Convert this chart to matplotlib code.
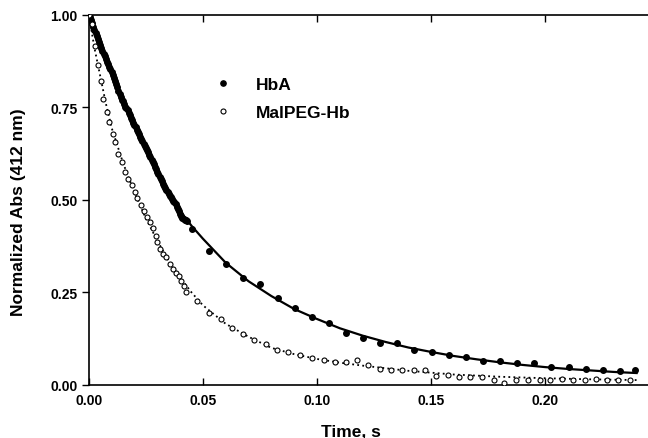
import matplotlib
matplotlib.use("Agg")
import matplotlib.pyplot as plt
from matplotlib.lines import Line2D

plt.rcParams["font.family"] = ["Liberation Sans", "DejaVu Sans"]
plt.rcParams["font.weight"] = "bold"

# HbA data (filled circles): dense early record, then sparse points
hba_t = [0.0000, 0.0005, 0.0010, 0.0015, 0.0020, 0.0025, 0.0030, 0.0035, 0.0040, 0.0045,
         0.0050, 0.0055, 0.0060, 0.0065, 0.0070, 0.0075, 0.0080, 0.0085, 0.0090, 0.0095,
         0.0100, 0.0105, 0.0110, 0.0115, 0.0120, 0.0125, 0.0130, 0.0135, 0.0140, 0.0145,
         0.0150, 0.0155, 0.0160, 0.0165, 0.0170, 0.0175, 0.0180, 0.0185, 0.0190, 0.0195,
         0.0200, 0.0205, 0.0210, 0.0215, 0.0220, 0.0225, 0.0230, 0.0235, 0.0240, 0.0245,
         0.0250, 0.0255, 0.0260, 0.0265, 0.0270, 0.0275, 0.0280, 0.0285, 0.0290, 0.0295,
         0.0300, 0.0305, 0.0310, 0.0315, 0.0320, 0.0325, 0.0330, 0.0335, 0.0340, 0.0345,
         0.0350, 0.0355, 0.0360, 0.0365, 0.0370, 0.0375, 0.0380, 0.0385, 0.0390, 0.0395,
         0.0400, 0.0405, 0.0410, 0.0415, 0.0420, 0.0425, 0.0430,
         0.0452, 0.0527, 0.0602, 0.0677, 0.0752, 0.0827, 0.0902, 0.0977, 0.1052,
         0.1127, 0.1202, 0.1277, 0.1352, 0.1427, 0.1502, 0.1577, 0.1652, 0.1727,
         0.1802, 0.1877, 0.1952, 0.2027, 0.2102, 0.2177, 0.2252, 0.2327, 0.2395]
hba_y = [1.000, 0.993, 0.985, 0.977, 0.968, 0.960, 0.952, 0.943, 0.935, 0.926,
         0.918, 0.910, 0.902, 0.895, 0.888, 0.881, 0.873, 0.866, 0.860, 0.853,
         0.846, 0.838, 0.830, 0.821, 0.812, 0.804, 0.795, 0.787, 0.778, 0.771,
         0.766, 0.758, 0.752, 0.747, 0.742, 0.735, 0.728, 0.721, 0.715, 0.708,
         0.702, 0.696, 0.690, 0.684, 0.678, 0.671, 0.665, 0.658, 0.652, 0.646,
         0.641, 0.634, 0.628, 0.621, 0.615, 0.608, 0.602, 0.596, 0.590, 0.583,
         0.576, 0.569, 0.562, 0.556, 0.550, 0.544, 0.538, 0.532, 0.527, 0.521,
         0.516, 0.511, 0.507, 0.502, 0.498, 0.493, 0.488, 0.482, 0.476, 0.470,
         0.462, 0.457, 0.452, 0.449, 0.446, 0.445, 0.444,
         0.420, 0.361, 0.327, 0.290, 0.272, 0.234, 0.207, 0.183, 0.167,
         0.140, 0.126, 0.114, 0.112, 0.094, 0.088, 0.081, 0.076, 0.065,
         0.065, 0.059, 0.058, 0.049, 0.048, 0.042, 0.041, 0.037, 0.041]

# HbA fitted curve (solid)
hba_fit_t = [0.000, 0.005, 0.010, 0.015, 0.020, 0.025, 0.030, 0.035, 0.040, 0.045,
             0.050, 0.060, 0.070, 0.080, 0.090, 0.100, 0.110, 0.120, 0.130, 0.140,
             0.150, 0.160, 0.170, 0.180, 0.190, 0.200, 0.210, 0.220, 0.230, 0.240]
hba_fit_y = [1.000, 0.915, 0.845, 0.765, 0.700, 0.640, 0.575, 0.515, 0.470, 0.430,
             0.395, 0.330, 0.280, 0.240, 0.205, 0.178, 0.153, 0.133, 0.116, 0.101,
             0.089, 0.078, 0.069, 0.061, 0.054, 0.048, 0.043, 0.039, 0.035, 0.032]

# MalPEG-Hb data (open circles)
mal_t = [0.0000, 0.0013, 0.0028, 0.0042, 0.0053, 0.0064, 0.0079, 0.0090, 0.0104,
         0.0115, 0.0130, 0.0145, 0.0159, 0.0174, 0.0189, 0.0203, 0.0213, 0.0229,
         0.0243, 0.0257, 0.0269, 0.0281, 0.0295, 0.0298, 0.0313, 0.0327, 0.0339,
         0.0354, 0.0368, 0.0383, 0.0397, 0.0404, 0.0418, 0.0427,
         0.0474, 0.0528, 0.0579, 0.0627, 0.0675, 0.0726, 0.0776, 0.0825, 0.0875,
         0.0927, 0.0978, 0.1029, 0.1080, 0.1127, 0.1175, 0.1222, 0.1275, 0.1322,
         0.1373, 0.1424, 0.1472, 0.1523, 0.1573, 0.1624, 0.1672, 0.1724, 0.1775,
         0.1821, 0.1873, 0.1924, 0.1975, 0.2020, 0.2075, 0.2121, 0.2172, 0.2220,
         0.2272, 0.2320, 0.2370]
mal_y = [1.000, 0.976, 0.917, 0.865, 0.822, 0.773, 0.737, 0.710, 0.678,
         0.656, 0.624, 0.602, 0.575, 0.557, 0.539, 0.521, 0.505, 0.485,
         0.471, 0.453, 0.441, 0.424, 0.402, 0.386, 0.368, 0.354, 0.345,
         0.327, 0.314, 0.302, 0.293, 0.282, 0.267, 0.251,
         0.228, 0.194, 0.177, 0.153, 0.138, 0.120, 0.111, 0.093, 0.090,
         0.081, 0.072, 0.066, 0.061, 0.061, 0.068, 0.054, 0.043, 0.039,
         0.039, 0.039, 0.041, 0.025, 0.027, 0.021, 0.021, 0.021, 0.014,
         0.005, 0.014, 0.014, 0.014, 0.012, 0.016, 0.012, 0.014, 0.016,
         0.012, 0.014, 0.014]

# MalPEG-Hb fitted curve (dotted)
mal_fit_t = [0.000, 0.0025, 0.005, 0.0075, 0.010, 0.015, 0.020, 0.025, 0.030, 0.035,
             0.040, 0.045, 0.050, 0.060, 0.070, 0.080, 0.090, 0.100, 0.110, 0.120,
             0.140, 0.160, 0.180, 0.200, 0.220, 0.240]
mal_fit_y = [1.000, 0.910, 0.835, 0.760, 0.695, 0.600, 0.520, 0.450, 0.390, 0.335,
             0.290, 0.250, 0.215, 0.165, 0.130, 0.100, 0.083, 0.070, 0.060, 0.052,
             0.038, 0.028, 0.022, 0.018, 0.015, 0.013]

fig = plt.figure(figsize=(6.48, 4.39), dpi=100)
ax = fig.add_axes([0.137, 0.121, 0.863, 0.843])

ax.plot(hba_fit_t, hba_fit_y, color="black", lw=1.6, zorder=2)
ax.plot(mal_fit_t, mal_fit_y, color="black", lw=1.3, ls=(0, (1, 1.8)), zorder=2)
ax.plot(hba_t, hba_y, "o", color="black", ms=4.0, zorder=3)
ax.plot(mal_t, mal_y, "o", mfc="white", mec="black", mew=0.8, ms=3.6, zorder=3)

ax.set_xlim(0, 0.245)
ax.set_ylim(0, 1.0)
ax.set_xticks([0.00, 0.05, 0.10, 0.15, 0.20])
ax.set_yticks([0.00, 0.25, 0.50, 0.75, 1.00])
ax.xaxis.set_major_formatter(plt.FormatStrFormatter("%.2f"))
ax.yaxis.set_major_formatter(plt.FormatStrFormatter("%.2f"))
ax.tick_params(axis="x", direction="in", top=True, length=5, width=1, labelsize=10, pad=6)
ax.tick_params(axis="y", direction="out", length=5, width=1, labelsize=10, pad=3)
ax.spines["right"].set_visible(False)
for s in ["left", "bottom", "top"]:
    ax.spines[s].set_linewidth(1.2)

ax.set_xlabel("Time, s", fontsize=12.5, fontweight="bold")
ax.set_ylabel("Normalized Abs (412 nm)", fontsize=12.5, fontweight="bold")
ax.xaxis.set_label_coords(0.115 / 0.245, -0.105)
ax.yaxis.set_label_coords(-0.112, 0.47)

handles = [Line2D([], [], ls="none", marker="o", color="black", ms=3.8),
           Line2D([], [], ls="none", marker="o", mfc="white", mec="black", mew=0.8, ms=3.6)]
ax.legend(handles, ["HbA", "MalPEG-Hb"], loc="upper left", bbox_to_anchor=(0.197, 0.875),
          frameon=False, handlelength=1.0, handletextpad=1.4, labelspacing=0.75,
          prop={"size": 12.5, "weight": "bold"})

fig.savefig("out.png", dpi=100)
